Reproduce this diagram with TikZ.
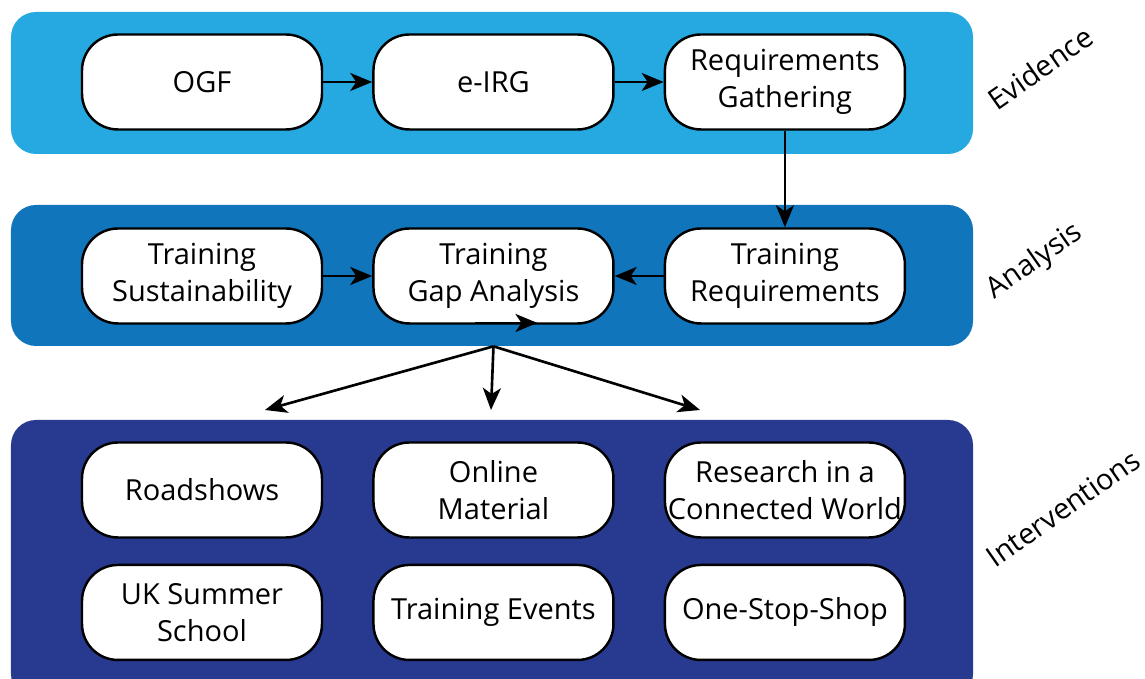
\documentclass[tikz,border=0pt]{standalone}
\usepackage{fontspec}
\setmainfont{Open Sans}
\usetikzlibrary{arrows.meta,positioning}
\definecolor{evblue}{RGB}{37,169,224}
\definecolor{anblue}{RGB}{17,117,188}
\definecolor{inblue}{RGB}{40,58,143}

\begin{document}
\begin{tikzpicture}[
    node distance=0.5cm and 0.98cm,
    band/.style={rounded corners=0.5cm,minimum width=19.24cm,inner sep=0pt},
    box/.style={draw=black,line width=1.4pt,fill=white,rounded corners=0.72cm,align=center,
      inner xsep=1pt,minimum width=4.8cm,minimum height=1.9cm,font=\fontsize{16.5}{21}\selectfont},
    side/.style={rotate=35,font=\fontsize{16.5}{21}\selectfont},
    flow/.style={-{Stealth[length=4.4mm,width=3.6mm,inset=1.2mm]},draw=black,line width=1.5pt}
  ]
    \useasboundingbox (0,0) rectangle (22.9,13.58);
    % coloured bands
    \node[band,fill=evblue,minimum height=2.84cm] (evband) at (9.84,11.92) {};
    \node[band,fill=anblue,minimum height=2.82cm] (anband) at (9.84,8.07) {};
    \node[band,fill=inblue,minimum height=5.58cm] (inband) at (9.84,2.39) {};
    % evidence
    \node[box] (ogf) at (4.04,11.94) {OGF};
    \node[box,right=of ogf] (eirg) {e-IRG};
    \node[box,right=of eirg] (reqgath) {Requirements\\Gathering};
    % analysis
    \node[box] (trsust) at (4.04,8.06) {Training\\Sustainability};
    \node[box,right=of trsust] (gap) {Training\\Gap Analysis};
    \node[box,right=of gap] (trreq) {Training\\Requirements};
    % interventions
    \node[box] (roadshows) at (4.04,3.78) {Roadshows};
    \node[box,right=of roadshows] (online) {Online\\Material};
    \node[box,right=of online] (rcw) {Research in a\\Connected World};
    \node[box,below=of roadshows] (summer) {UK Summer\\School};
    \node[box,right=of summer] (events) {Training Events};
    \node[box,right=of events] (onestop) {One-Stop-Shop};
    % side labels
    \node[side] (evlabel) at (20.8,12.22) {Evidence};
    \node[side] (anlabel) at (20.7,8.34) {Analysis};
    \node[side] (inlabel) at (21.26,3.42) {Interventions};
    \draw[flow] (ogf) -- (eirg);
    \draw[flow] (eirg) -- (reqgath);
    \draw[flow] (reqgath) -- (trreq);
    \draw[flow] (trsust) -- (gap);
    \draw[flow] (trreq) -- (gap);
    \draw[flow] ([xshift=-0.36cm,yshift=1pt]gap.south) -- ++(1.24,0);
    \coordinate (fanl) at (5.30,5.38);
    \coordinate (fanm) at (9.82,5.38);
    \coordinate (fanr) at (14.0,5.38);
    \draw[flow] (gap |- anband.south) -- (fanl);
    \draw[flow] (gap |- anband.south) -- (fanm);
    \draw[flow] (gap |- anband.south) -- (fanr);
  \end{tikzpicture}
\end{document}
